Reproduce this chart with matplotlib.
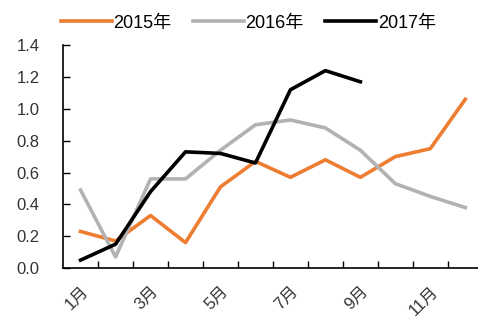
import matplotlib
matplotlib.use("Agg")
import matplotlib.pyplot as plt
import numpy as np

plt.rcParams['font.family'] = ['Liberation Sans', 'Noto Sans CJK SC']

months = ["1月", "2月", "3月", "4月", "5月", "6月", "7月", "8月", "9月", "10月", "11月", "12月"]
v2015 = [0.23, 0.17, 0.33, 0.16, 0.51, 0.67, 0.57, 0.68, 0.57, 0.70, 0.75, 1.06]
v2016 = [0.49, 0.07, 0.56, 0.56, 0.74, 0.90, 0.93, 0.88, 0.74, 0.53, 0.45, 0.38]
v2017 = [0.05, 0.15, 0.48, 0.73, 0.72, 0.66, 1.12, 1.24, 1.17]

fig = plt.figure(figsize=(4.78, 3.18), dpi=100)
ax = fig.add_axes([0.132, 0.157, 0.878, 0.701])

x = np.arange(len(months))
ax.plot(x, v2015, color="#ED7D31", lw=2.6, label="2015年")
ax.plot(x, v2016, color="#B2B2B2", lw=2.6, label="2016年")
ax.plot(x[:len(v2017)], v2017, color="#000000", lw=2.6, label="2017年")

ax.set_xlim(-0.5, 11.5)
ax.set_ylim(0, 1.4)
ax.set_yticks(np.arange(0, 1.41, 0.2))
ax.set_yticklabels([f"{v:.1f}" for v in np.arange(0, 1.41, 0.2)])

ax.set_xticks(x[::2])
ax.set_xticklabels(months[::2], rotation=45, ha="right", rotation_mode="anchor")
ax.set_xticks(np.arange(0.5, 11.5, 1), minor=True)
ax.tick_params(axis="x", which="major", length=0, pad=11, labelsize=12, colors="#333333")
ax.tick_params(axis="x", which="minor", direction="in", length=5, width=1)
ax.tick_params(axis="y", direction="in", length=5, width=1, pad=17, labelsize=12, colors="#333333")
ax.tick_params(axis="y", color="black")

for s in ["top", "right"]:
    ax.spines[s].set_visible(False)
for s in ["left", "bottom"]:
    ax.spines[s].set_linewidth(1.2)

ax.legend(loc="lower left", bbox_to_anchor=(-0.005, 1.06), ncol=3, frameon=False,
          fontsize=13, handlelength=2.8, handletextpad=0.1, columnspacing=1.2,
          borderaxespad=0, borderpad=0)

fig.savefig("out.png", dpi=100)
